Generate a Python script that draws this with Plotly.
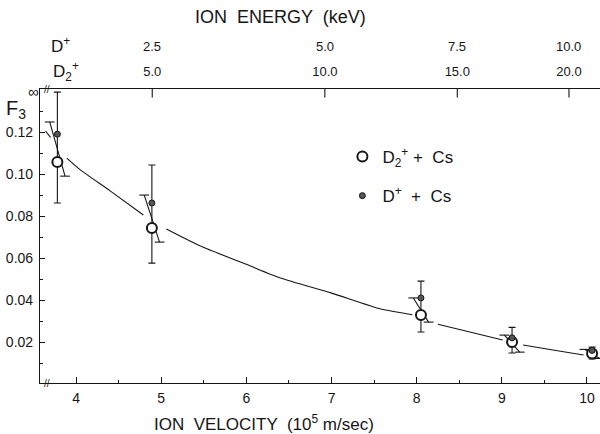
import numpy as np
import plotly.graph_objects as go

# ---------------- data ----------------
velocity = [3.78, 4.89, 8.05, 9.12, 10.06]          # 10^5 m/s
f3_d2 = [0.1057, 0.0743, 0.0329, 0.0200, 0.0145]     # D2+ + Cs (open circles)
f3_d = [0.1190, 0.0862, 0.0410, 0.0220, 0.0160]      # D+ + Cs (dots)
vbar_hi = [0.1390, 0.1043, 0.0490, 0.0270, 0.0176]   # vertical error bar ends
vbar_lo = [0.0862, 0.0576, 0.0248, 0.0148, 0.0119]
sbar_hi = [0.1248, 0.0900, 0.0410, 0.0233, 0.0165]   # slanted error bar ends
sbar_lo = [0.0990, 0.0676, 0.0295, 0.0152, 0.0122]

curve_v = [3.64, 3.70, None, 3.89, 4.05, 4.40, 4.79, None,
           5.06, 5.46, 6.00, 6.40, 7.00, 7.58, 7.95, None,
           8.25, 8.60, 9.01, None, 9.25, 9.60, 9.96]
curve_f = [0.1205, 0.1175, None, 0.1076, 0.1020, 0.0920, 0.0805, None,
           0.0738, 0.0657, 0.0570, 0.0505, 0.0433, 0.0357, 0.0330, None,
           0.0285, 0.0250, 0.0210, None, 0.0186, 0.0162, 0.0138]

energy_d = [2.5, 5.0, 7.5, 10.0]        # keV, D+
energy_d2 = [5.0, 10.0, 15.0, 20.0]     # keV, D2+
energy_d_txt = ["2.5", "5.0", "7.5", "10.0"]
energy_d2_txt = ["5.0", "10.0", "15.0", "20.0"]

y_ticks = [0.02, 0.04, 0.06, 0.08, 0.10, 0.12]

# ---------------- conversions ----------------
M_D = 2.014 * 1.66054e-27
KEV = 1.602177e-16
energy_v = [np.sqrt(2 * e * KEV / M_D) / 1e5 for e in energy_d]

INK = "#161616"
FONT = "Liberation Sans"
SLANT = 0.09
XR = [3.576, 10.153]
YR = [0.0005, 0.1405]

fig = go.Figure()

# fitted curve
fig.add_trace(go.Scatter(x=curve_v, y=curve_f, mode="lines",
                         line=dict(color=INK, width=1.1, shape="spline", smoothing=0.6),
                         connectgaps=False, showlegend=False, hoverinfo="skip"))

# slanted error bars
sx, sy = [], []
for v, hi, lo in zip(velocity, sbar_hi, sbar_lo):
    sx += [v - SLANT, v + SLANT, None]
    sy += [hi, lo, None]
fig.add_trace(go.Scatter(x=sx, y=sy, mode="lines+markers",
                         line=dict(color=INK, width=1.1),
                         marker=dict(symbol="line-ew", size=7, line=dict(width=1.1, color=INK)),
                         showlegend=False, hoverinfo="skip"))

# vertical error bars
fig.add_trace(go.Scatter(x=velocity, y=f3_d, mode="markers",
                         marker=dict(size=1, opacity=0),
                         error_y=dict(type="data", symmetric=False,
                                      array=[h - y for h, y in zip(vbar_hi, f3_d)],
                                      arrayminus=[y - l for l, y in zip(vbar_lo, f3_d)],
                                      color=INK, thickness=1.1, width=3.5),
                         showlegend=False, hoverinfo="skip"))

# data points
fig.add_trace(go.Scatter(x=velocity, y=f3_d2, mode="markers",
                         name="D<sub>2</sub><sup>+</sup> +  Cs",
                         legendgroup="a",
                         marker=dict(symbol="circle", size=10, color="white",
                                     line=dict(color=INK, width=2))))
fig.add_trace(go.Scatter(x=velocity, y=f3_d, mode="markers",
                         name="D<sup>+</sup>  +  Cs",
                         legendgroup="b",
                         marker=dict(symbol="circle", size=6, color="#555555",
                                     line=dict(color=INK, width=1))))

# top energy-axis tick marks (clipped to the plot area -> inward ticks)
fig.add_trace(go.Scatter(x=energy_v, y=[YR[1]] * len(energy_v), mode="markers",
                         cliponaxis=True,
                         marker=dict(symbol="line-ns", size=12,
                                     line=dict(width=1.1, color=INK)),
                         showlegend=False, hoverinfo="skip"))

# top axis carrier (invisible) for the energy labels
fig.add_trace(go.Scatter(x=XR, y=[YR[0], YR[0]], xaxis="x2", mode="markers",
                         marker=dict(opacity=0), showlegend=False, hoverinfo="skip"))

fig.update_layout(
    width=600, height=434, autosize=False,
    margin=dict(l=40, r=0, t=89, b=51),
    paper_bgcolor="white", plot_bgcolor="white",
    font=dict(family=FONT, color=INK, size=14),
    xaxis=dict(range=XR, showline=True, linecolor=INK, linewidth=1.2, mirror=True,
               ticks="inside", ticklen=6, tickcolor=INK, dtick=1, tick0=0,
               minor=dict(dtick=0.5, tick0=0, ticks="inside", ticklen=3, tickcolor=INK),
               showgrid=False, zeroline=False, tickfont=dict(size=14),
               ticklabelstandoff=2),
    xaxis2=dict(range=XR, overlaying="x", side="top", anchor="free", position=1.0,
                showline=False,
                tickmode="array", tickvals=energy_v, ticktext=energy_d2_txt,
                ticks="", showgrid=False, zeroline=False, tickfont=dict(size=13),
                ticklabelstandoff=10),
    yaxis=dict(range=YR, showline=True, linecolor=INK, linewidth=1.2,
               tickmode="array", tickvals=y_ticks, tickformat=".2f",
               ticks="inside", ticklen=5, tickcolor=INK,
               minor=dict(tickmode="array",
                          tickvals=[t - 0.01 for t in y_ticks] + [y_ticks[-1] + 0.01],
                          ticks="inside", ticklen=3, tickcolor=INK),
               showgrid=False, zeroline=False, tickfont=dict(size=14),
               ticklabelstandoff=3),
    legend=dict(x=0.54, y=0.83, xanchor="left", yanchor="top",
                bgcolor="rgba(0,0,0,0)", font=dict(size=17, family=FONT),
                tracegroupgap=14, itemsizing="trace"),
    showlegend=True,
)

def note(text, x, y, size, xref="paper"):
    return dict(text=text, x=x, y=y, xref=xref, yref="paper", showarrow=False,
                xanchor="center", yanchor="middle", font=dict(size=size))

ann = [note("ION  ENERGY  (keV)", 0.43, 1.245, 18)]
for v, t in zip(energy_v, energy_d_txt):
    ann.append(note(t, v, 1.143, 13, xref="x"))
ann.append(note("D<sup>+</sup>", 0.036, 1.15, 17))
ann.append(note("D<sub>2</sub><sup>+</sup>", 0.047, 1.06, 17))
ann.append(note("∞", -0.012, 0.99, 15))
ann.append(note("F<sub>3</sub>", -0.043, 0.93, 20))
ann.append(note("ION  VELOCITY  (10<sup>5</sup> m/sec)", 0.40, -0.136, 17))
ann.append(note("//", 0.012, 1.0, 10))
ann.append(note("//", 0.012, 0.0, 10))
fig.update_layout(annotations=ann)

fig.write_html("out.html")
